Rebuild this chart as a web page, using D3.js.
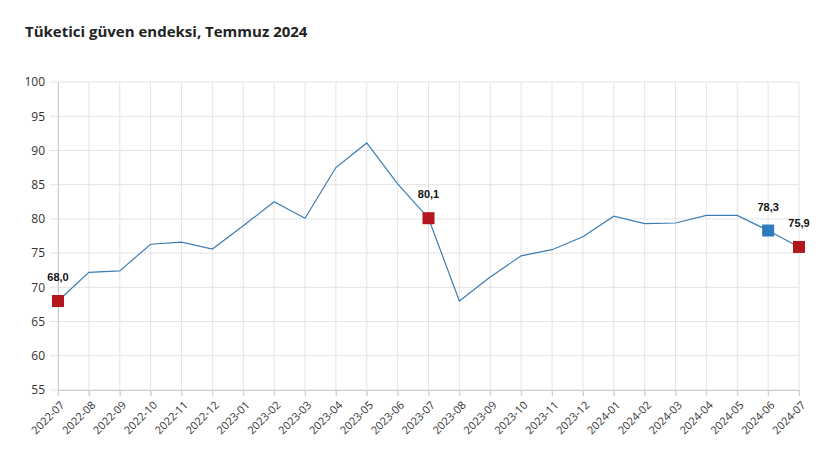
<!DOCTYPE html>
<html><head><meta charset="utf-8">
<script src="https://cdn.jsdelivr.net/npm/d3@7"></script>
<style>body{margin:0;background:#fff}svg{display:block}</style>
</head><body>
<svg id="c" width="829" height="452"></svg>
<script>
const title = "Tüketici güven endeksi, Temmuz 2024";
const categories = ["2022-07","2022-08","2022-09","2022-10","2022-11","2022-12","2023-01","2023-02","2023-03","2023-04","2023-05","2023-06","2023-07","2023-08","2023-09","2023-10","2023-11","2023-12","2024-01","2024-02","2024-03","2024-04","2024-05","2024-06","2024-07"];
const values = [68.0,72.2,72.4,76.3,76.6,75.6,79.0,82.5,80.1,87.5,91.1,85.1,80.1,68.0,71.5,74.6,75.5,77.4,80.4,79.3,79.4,80.5,80.5,78.3,75.9];
const yTicks = [55,60,65,70,75,80,85,90,95,100];
const highlightRed = ["2022-07","2023-07","2024-07"];
const highlightBlue = ["2024-06"];

const svg = d3.select("#c");
const mL = 58, mR = 799, mT = 82, mB = 390;
const x = d3.scalePoint().domain(categories).range([mL, mR]);
const y = d3.scaleLinear().domain([55,100]).range([mB, mT]);

svg.append("text").attr("x",25).attr("y",37).text(title)
  .attr("font-family","Open Sans, sans-serif").attr("font-weight","bold").attr("font-size",15).attr("fill","#222");

// grid
svg.append("g").selectAll("line").data(yTicks).join("line")
  .attr("x1",mL-8).attr("x2",mR).attr("y1",d=>y(d)).attr("y2",d=>y(d))
  .attr("stroke","#e4e4e4").attr("stroke-width",1);
svg.append("g").selectAll("line").data(categories).join("line")
  .attr("x1",d=>x(d)).attr("x2",d=>x(d)).attr("y1",mT).attr("y2",mB+6)
  .attr("stroke","#e4e4e4").attr("stroke-width",1);

// axes
const ya = svg.append("g").attr("transform",`translate(${mL},0)`)
  .call(d3.axisLeft(y).tickValues(yTicks).tickSize(0).tickPadding(13));
ya.select(".domain").attr("stroke","#ccc");
ya.selectAll("text").attr("font-family","Open Sans, sans-serif").attr("font-size",12).attr("fill","#333");

const xa = svg.append("g").attr("transform",`translate(0,${mB})`)
  .call(d3.axisBottom(x).tickSize(6).tickPadding(0));
xa.select(".domain").attr("stroke","#ccc");
xa.selectAll(".tick line").attr("stroke","#ccc");
xa.selectAll("text").attr("font-family","Open Sans, sans-serif").attr("font-size",11).attr("fill","#333")
  .attr("x",0).attr("y",0).attr("dx",0).attr("dy","0.35em")
  .attr("text-anchor","end").attr("transform","translate(4,13) rotate(-45)");

// line
const line = d3.line().x((d,i)=>x(categories[i])).y(d=>y(d));
svg.append("path").datum(values).attr("d",line).attr("fill","none").attr("stroke","#3b7cb4").attr("stroke-width",1.2);

// markers
const pts = categories.map((c,i)=>({c,v:values[i]})).filter(d=>highlightRed.includes(d.c)||highlightBlue.includes(d.c));
const s = 12;
svg.append("g").selectAll("rect").data(pts).join("rect")
  .attr("x",d=>x(d.c)-s/2).attr("y",d=>y(d.v)-s/2).attr("width",s).attr("height",s)
  .attr("fill",d=>highlightBlue.includes(d.c)?"#2e7bbf":"#b3161d");
svg.append("g").selectAll("text").data(pts).join("text")
  .attr("x",d=>x(d.c)).attr("y",d=>y(d.v)-20).attr("text-anchor","middle")
  .attr("font-family","Liberation Sans, Arial, sans-serif").attr("font-weight","bold").attr("font-size",11).attr("fill","#111")
  .text(d=>d.v.toFixed(1).replace(".",","));
</script>
</body></html>
